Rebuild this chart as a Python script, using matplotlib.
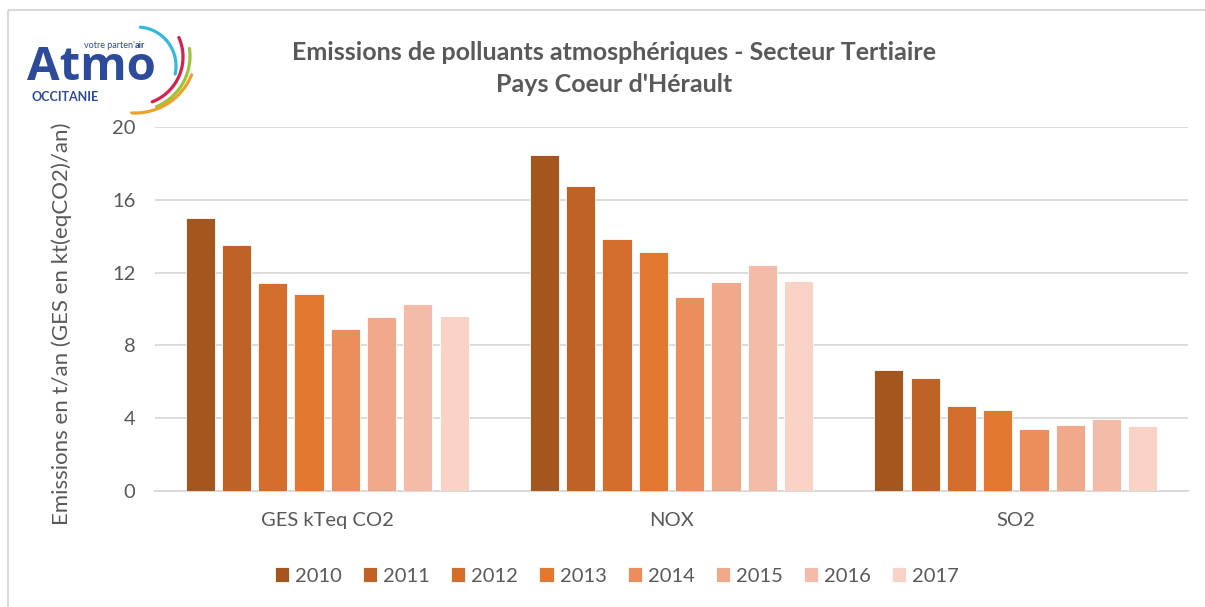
import numpy as np
import matplotlib
matplotlib.use("Agg")
import matplotlib.pyplot as plt
from matplotlib.patches import Rectangle

plt.rcParams['font.family'] = ['Lato', 'DejaVu Sans']

categories = ["GES kTeq CO2", "NOX", "SO2"]
years = ["2010", "2011", "2012", "2013", "2014", "2015", "2016", "2017"]
values = {
    "2010": [15.0, 18.45, 6.63],
    "2011": [13.53, 16.76, 6.19],
    "2012": [11.41, 13.85, 4.65],
    "2013": [10.8, 13.13, 4.43],
    "2014": [8.88, 10.66, 3.39],
    "2015": [9.56, 11.48, 3.63],
    "2016": [10.29, 12.4, 3.97],
    "2017": [9.62, 11.52, 3.59],
}
colors = ["#A5561F", "#BF6226", "#D36D2C", "#E27831",
          "#EC8D5C", "#F0A98A", "#F4BCA8", "#F7D2C5"]
yticks = [0, 4, 8, 12, 16, 20]

W, H = 1205, 607
fig = plt.figure(figsize=(W / 100, H / 100), dpi=100)

# background overlay in pixel coordinates
bg = fig.add_axes([0, 0, 1, 1], zorder=0)
bg.set_xlim(0, W)
bg.set_ylim(H, 0)
bg.axis("off")
bg.add_patch(Rectangle((8, 10), W + 20, H + 20, fill=False,
                       edgecolor="#D9D9D9", lw=1.5))

# logo
blue = "#2D4A9B"
bg.text(27, 80, "Atmo", fontsize=34, fontweight="bold", color=blue,
        ha="left", va="baseline", family=["Open Sans", "DejaVu Sans"])
t1 = bg.text(84, 48, "votre parten'", fontsize=6.5, color=blue,
             ha="left", va="baseline")
bg.annotate("air", xy=(1, 0), xycoords=t1, fontsize=6.5, color=blue,
            fontweight="bold", ha="left", va="bottom")
bg.text(32, 101, "OCCITANIE", fontsize=9, color=blue, fontweight="bold",
        ha="left", va="baseline")
for (cx, cy, r, a0, a1, c) in [(137, 66, 39, 85, -12, "#35B8E0"),
                               (135, 57, 48, 24, -69, "#D6204F"),
                               (135, 56, 55, 8, -67, "#9CC43C"),
                               (135, 52, 61, -22, -93, "#F0A028")]:
    a = np.radians(np.linspace(a0, a1, 60))
    bg.plot(cx + r * np.cos(a), cy - r * np.sin(a), color=c, lw=2.3,
            solid_capstyle="round")

# titles
fig.text(614 / W, 1 - 52 / H, "Emissions de polluants atmosphériques - Secteur Tertiaire",
         ha="center", va="center", fontsize=18, fontweight="bold", color="#595959")
fig.text(614 / W, 1 - 85 / H, "Pays Coeur d'Hérault",
         ha="center", va="center", fontsize=18, fontweight="bold", color="#595959")

# main axes
left, right, top, bottom = 155, 1188, 127, 491
ax = fig.add_axes([left / W, 1 - bottom / H, (right - left) / W, (bottom - top) / H], zorder=1)
ax.patch.set_alpha(0)
x = np.arange(len(categories))
pitch = 0.1055
bw = 0.0843
for i, (yr, col) in enumerate(zip(years, colors)):
    ax.bar(x + (i - 3.5) * pitch, values[yr], width=bw, color=col,
           edgecolor="white", linewidth=0.6, label=yr, zorder=3)

ax.set_xlim(-0.5, 2.5)
ax.set_ylim(0, 20)
ax.set_yticks(yticks)
ax.set_yticklabels([str(v) for v in yticks])
ax.set_xticks(x)
ax.set_xticklabels(categories)
ax.tick_params(axis="both", length=0, labelsize=14.5, colors="#595959")
ax.tick_params(axis="y", pad=14)
ax.tick_params(axis="x", pad=15)
ax.yaxis.grid(True, color="#D9D9D9", linewidth=1.3, zorder=0)
ax.set_axisbelow(True)
for s in ["top", "right", "left"]:
    ax.spines[s].set_visible(False)
ax.spines["bottom"].set_color("#D9D9D9")
ax.spines["bottom"].set_linewidth(1.5)
ax.set_ylabel("Emissions en t/an (GES en kt(eqCO2)/an)", fontsize=16,
              color="#595959")
ax.yaxis.set_label_coords((72 - left) / (right - left), (bottom - 324) / (bottom - top))

handles, labels = ax.get_legend_handles_labels()
leg = fig.legend(handles, labels, loc="center", bbox_to_anchor=(617 / W, 1 - 576 / H),
                 ncol=8, frameon=False, fontsize=14.5, handlelength=0.7,
                 handleheight=0.7, handletextpad=0.3, columnspacing=1.05)
for t in leg.get_texts():
    t.set_color("#595959")

fig.savefig("out.png", dpi=100)
